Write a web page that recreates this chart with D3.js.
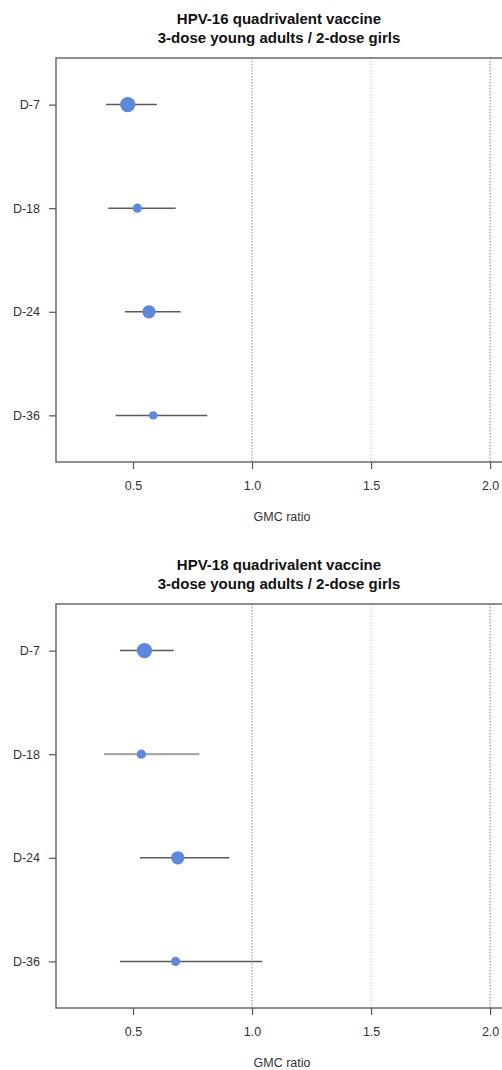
<!DOCTYPE html>
<html>
<head>
<meta charset="utf-8">
<script src="https://cdn.jsdelivr.net/npm/d3@7"></script>
<style>
  html, body { margin: 0; padding: 0; background: #fff; }
  svg { display: block; font-family: "Liberation Sans", Arial, sans-serif; }
</style>
</head>
<body>
<svg id="chart" width="502" height="1070"></svg>
<script>
// Study visits (rows of each forest plot)
const visits = ["D-7", "D-18", "D-24", "D-36"];

// HPV-16: GMC ratio estimates with 95% CI and relative weight
const hpv16Ratio = [0.478, 0.518, 0.567, 0.585];
const hpv16Lower = [0.387, 0.396, 0.466, 0.427];
const hpv16Upper = [0.600, 0.679, 0.700, 0.812];
const hpv16Weight = [56, 20, 42, 16];

// HPV-18: GMC ratio estimates with 95% CI and relative weight
const hpv18Ratio = [0.548, 0.535, 0.688, 0.679];
const hpv18Lower = [0.445, 0.378, 0.529, 0.445];
const hpv18Upper = [0.671, 0.779, 0.905, 1.043];
const hpv18Weight = [56, 20, 42, 20];

// Axis ticks and reference lines
const xTicks = [0.5, 1.0, 1.5, 2.0];
const refLines = [1.0, 1.5, 2.0];

const panels = [
  { title: ["HPV-16 quadrivalent vaccine", "3-dose young adults / 2-dose girls"],
    ratio: hpv16Ratio, lower: hpv16Lower, upper: hpv16Upper, weight: hpv16Weight, top: 0 },
  { title: ["HPV-18 quadrivalent vaccine", "3-dose young adults / 2-dose girls"],
    ratio: hpv18Ratio, lower: hpv18Lower, upper: hpv18Upper, weight: hpv18Weight, top: 546 }
];

const svg = d3.select("#chart");
const box = { left: 56, right: 512, top: 58, bottom: 462 };

const x = d3.scaleLinear().domain([0.1765, 2.092]).range([box.left, box.right]);
const y = d3.scalePoint().domain(visits).range([box.top, box.bottom]).padding(0.45);
const r = d3.scaleSqrt().domain([0, 56]).range([0, 7.7]);

panels.forEach((p, pi) => {
  const g = svg.append("g").attr("transform", `translate(0,${p.top})`);

  // title
  const t = g.append("text")
    .attr("x", 279).attr("text-anchor", "middle")
    .attr("font-weight", "bold").attr("font-size", 15).attr("fill", "#111");
  p.title.forEach((line, i) => {
    t.append("tspan").attr("x", 279).attr("y", 23.5 + i * 19).text(line);
  });

  // reference lines
  g.selectAll("line.ref").data(refLines).join("line")
    .attr("class", "ref")
    .attr("x1", d => x(d)).attr("x2", d => x(d))
    .attr("y1", box.top).attr("y2", box.bottom)
    .attr("stroke", d => d === 1.5 ? "#c8c8c8" : "#888")
    .attr("stroke-width", 1)
    .attr("stroke-dasharray", "1.5,1.5");

  // confidence intervals
  const rows = visits.map((v, i) => ({
    visit: v, ratio: p.ratio[i], lower: p.lower[i], upper: p.upper[i], weight: p.weight[i]
  }));
  g.selectAll("line.ci").data(rows).join("line")
    .attr("class", "ci")
    .attr("x1", d => x(d.lower)).attr("x2", d => x(d.upper))
    .attr("y1", d => y(d.visit)).attr("y2", d => y(d.visit))
    .attr("stroke", (d, i) => (pi === 1 && i === 1) ? "#a8a8a8" : "#5a5a5a")
    .attr("stroke-width", (d, i) => (pi === 1 && i === 1) ? 2.2 : 1.5);

  // point estimates
  g.selectAll("circle.pt").data(rows).join("circle")
    .attr("class", "pt")
    .attr("cx", d => x(d.ratio)).attr("cy", d => y(d.visit))
    .attr("r", d => r(d.weight))
    .attr("fill", "#5d88dc");

  // frame (right side runs past the viewport)
  g.append("rect")
    .attr("x", box.left).attr("y", box.top)
    .attr("width", box.right - box.left).attr("height", box.bottom - box.top)
    .attr("fill", "none").attr("stroke", "#6a6a6a").attr("stroke-width", 1.5);

  // x axis
  const xa = g.append("g").attr("transform", `translate(0,${box.bottom})`)
    .call(d3.axisBottom(x).tickValues(xTicks).tickFormat(d3.format(".1f"))
      .tickSize(7).tickPadding(12));
  xa.select(".domain").remove();
  xa.selectAll("line").attr("stroke", "#555").attr("stroke-width", 1.2);
  xa.selectAll("text").attr("font-size", 12.5).attr("fill", "#333")
    .attr("font-family", "Liberation Sans, Arial, sans-serif");

  // y axis
  const ya = g.append("g").attr("transform", `translate(${box.left},0)`)
    .call(d3.axisLeft(y).tickSize(7).tickPadding(9));
  ya.select(".domain").remove();
  ya.selectAll("line").attr("stroke", "#555").attr("stroke-width", 1.2);
  ya.selectAll("text").attr("font-size", 12.5).attr("fill", "#333")
    .attr("font-family", "Liberation Sans, Arial, sans-serif");

  // x axis title
  g.append("text")
    .attr("x", 282).attr("y", box.bottom + 59)
    .attr("text-anchor", "middle").attr("font-size", 12.5).attr("fill", "#333")
    .text("GMC ratio");
});
</script>
</body>
</html>
